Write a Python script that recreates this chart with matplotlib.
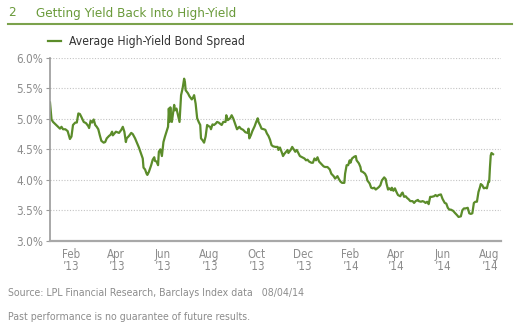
import numpy as np
import pandas as pd
import matplotlib
matplotlib.use("Agg")
import matplotlib.pyplot as plt
import matplotlib.dates as mdates
from matplotlib.lines import Line2D

plt.rcParams['font.family'] = ['Liberation Sans Narrow', 'DejaVu Sans']
plt.rcParams['font.stretch'] = 'condensed'

# Average high-yield bond spread (%), calendar days counted from 1 Jan 2013
days = [4, 6, 8, 12, 15, 17, 19, 21, 24, 27, 29, 30, 32, 34, 37, 39, 41, 43, 45, 48,
        51, 54, 55, 57, 59, 61, 63, 65, 67, 69, 71, 74, 76, 78, 81, 83, 85, 86, 88, 90,
        92, 94, 97, 99, 101, 103, 104, 107, 110, 112, 115, 117, 120, 122, 125, 126, 128, 130, 131, 133,
        136, 138, 140, 141, 143, 145, 146, 148, 150, 152, 154, 156, 158, 159, 160, 161, 162, 163, 166, 167,
        169, 171, 173, 175, 177, 179, 180, 181, 184, 186, 189, 191, 192, 194, 196, 198, 200, 201, 203, 205,
        207, 209, 211, 213, 214, 216, 218, 220, 222, 224, 226, 228, 230, 233, 234, 236, 239, 241, 243, 246,
        248, 251, 253, 256, 259, 262, 263, 264, 266, 268, 271, 273, 275, 276, 278, 280, 283, 285, 287, 289,
        291, 293, 295, 298, 301, 302, 304, 307, 308, 310, 312, 314, 315, 318, 320, 322, 324, 326, 328, 330,
        333, 336, 338, 340, 342, 345, 347, 349, 351, 353, 355, 358, 361, 363, 366, 369, 371, 374, 376, 379,
        381, 383, 385, 388, 389, 391, 393, 395, 396, 398, 401, 403, 404, 407, 409, 410, 412, 415, 417, 418,
        421, 423, 425, 427, 429, 431, 433, 435, 437, 440, 442, 443, 445, 447, 449, 450, 452, 454, 456, 458,
        461, 463, 464, 466, 468, 470, 472, 474, 477, 479, 481, 484, 485, 488, 490, 492, 494, 496, 498, 500,
        502, 505, 507, 509, 511, 514, 516, 519, 521, 523, 525, 527, 530, 532, 535, 537, 540, 542, 544, 546,
        549, 551, 553, 555, 557, 559, 561, 563, 565, 566, 568, 570, 572, 574, 576, 577, 578, 579, 580, 581,
        582]
spread = [5.27, 4.99, 4.95, 4.90, 4.86, 4.84, 4.87, 4.83, 4.83, 4.80, 4.71, 4.67, 4.71, 4.90, 4.94, 4.94, 5.09, 5.08, 5.03, 4.95,
          4.93, 4.88, 4.85, 4.97, 4.94, 4.99, 4.90, 4.87, 4.83, 4.73, 4.64, 4.61, 4.62, 4.68, 4.72, 4.74, 4.79, 4.73, 4.76, 4.79,
          4.78, 4.77, 4.82, 4.87, 4.79, 4.62, 4.68, 4.72, 4.77, 4.75, 4.68, 4.62, 4.53, 4.46, 4.35, 4.20, 4.17, 4.10, 4.08, 4.13,
          4.24, 4.33, 4.37, 4.31, 4.30, 4.24, 4.46, 4.50, 4.39, 4.62, 4.71, 4.79, 4.87, 5.17, 4.95, 5.19, 4.98, 4.95, 5.23, 5.14,
          5.17, 5.06, 4.95, 5.39, 5.50, 5.66, 5.61, 5.47, 5.42, 5.37, 5.32, 5.36, 5.39, 5.25, 5.01, 4.95, 4.90, 4.68, 4.65, 4.61,
          4.71, 4.90, 4.88, 4.87, 4.83, 4.91, 4.90, 4.92, 4.95, 4.94, 4.92, 4.90, 4.95, 4.95, 5.06, 4.98, 5.01, 5.06, 5.01, 4.90,
          4.83, 4.87, 4.84, 4.82, 4.78, 4.77, 4.84, 4.68, 4.73, 4.80, 4.88, 4.95, 5.01, 4.95, 4.90, 4.84, 4.83, 4.82, 4.76, 4.72,
          4.66, 4.57, 4.55, 4.54, 4.54, 4.49, 4.53, 4.43, 4.39, 4.43, 4.46, 4.49, 4.44, 4.49, 4.54, 4.50, 4.46, 4.49, 4.44, 4.39,
          4.37, 4.35, 4.32, 4.33, 4.30, 4.28, 4.28, 4.35, 4.32, 4.37, 4.30, 4.26, 4.22, 4.21, 4.21, 4.17, 4.10, 4.06, 4.02, 4.06,
          4.01, 3.97, 3.95, 3.95, 4.10, 4.24, 4.24, 4.32, 4.28, 4.35, 4.38, 4.39, 4.32, 4.27, 4.21, 4.14, 4.13, 4.10, 4.05, 3.99,
          3.94, 3.87, 3.86, 3.87, 3.84, 3.86, 3.88, 3.91, 3.99, 4.04, 4.01, 3.94, 3.84, 3.86, 3.83, 3.87, 3.82, 3.86, 3.80, 3.75,
          3.73, 3.78, 3.79, 3.72, 3.73, 3.70, 3.68, 3.65, 3.65, 3.62, 3.65, 3.67, 3.65, 3.64, 3.65, 3.64, 3.62, 3.64, 3.60, 3.72,
          3.72, 3.73, 3.75, 3.73, 3.75, 3.76, 3.69, 3.62, 3.61, 3.54, 3.51, 3.51, 3.49, 3.46, 3.42, 3.39, 3.40, 3.50, 3.53, 3.53,
          3.54, 3.45, 3.44, 3.45, 3.62, 3.64, 3.64, 3.80, 3.88, 3.93, 3.91, 3.86, 3.87, 3.86, 3.97, 3.97, 4.21, 4.40, 4.44, 4.43,
          4.42]

y_ticks = [3.0, 3.5, 4.0, 4.5, 5.0, 5.5, 6.0]
titulo = "Getting Yield Back Into High-Yield"
serie = "Average High-Yield Bond Spread"
fuente = "Source: LPL Financial Research, Barclays Index data   08/04/14"
aviso = "Past performance is no guarantee of future results."

verde = '#5b8c2a'
verde_titulo = '#6a9a3a'
gris = '#8c8c8c'

fechas = pd.Timestamp("2013-01-01") + pd.to_timedelta(days, unit="D")

fig = plt.figure(figsize=(5.25, 3.23), dpi=100)
ax = fig.add_axes([50 / 525, 82.3 / 323, 450.7 / 525, 182.7 / 323])

ax.plot(fechas, spread, color=verde, lw=1.6, label=serie, solid_joinstyle='round')

ax.set_ylim(3.0, 6.0)
ax.set_yticks(y_ticks)
ax.set_yticklabels([f"{v:.1f}%" for v in y_ticks])
ax.set_xlim(pd.Timestamp("2013-01-05"), pd.Timestamp("2014-08-16"))
ax.xaxis.set_major_locator(mdates.MonthLocator(bymonth=[2, 4, 6, 8, 10, 12]))
ax.xaxis.set_major_formatter(mdates.DateFormatter("%b\n\u2019%y"))

for v in y_ticks[1:]:
    ax.axhline(v, color='#c4c4c4', lw=0.8, ls=(0, (1, 1.5)), zorder=0)

for s in ['top', 'right']:
    ax.spines[s].set_visible(False)
ax.spines['left'].set_color('#9a9a9a')
ax.spines['left'].set_linewidth(1.2)
ax.spines['bottom'].set_color('#a8a8a8')
ax.spines['bottom'].set_linewidth(1.6)

ax.tick_params(axis='y', length=3, width=0.8, color='#9a9a9a', labelcolor=gris,
               labelsize=8.5, pad=2)
ax.tick_params(axis='x', length=0, labelcolor=gris, labelsize=8.3, pad=5)
for lbl in ax.get_xticklabels():
    lbl.set_linespacing(0.95)

ax.legend(loc='center left', bbox_to_anchor=(48 / 525, 1 - 42 / 323),
          bbox_transform=fig.transFigure, frameon=False, handlelength=1.1,
          handletextpad=0.6, borderaxespad=0, borderpad=0,
          prop={'size': 8.7}, labelcolor='#333333')

fig.text(8 / 525, 1 - 13 / 323, "2", color=verde_titulo, fontsize=9.6, va='center', ha='left')
fig.text(36 / 525, 1 - 13 / 323, titulo, color=verde_titulo, fontsize=9.6, va='center', ha='left')
fig.add_artist(Line2D([8 / 525, 512 / 525], [1 - 23.5 / 323] * 2, transform=fig.transFigure,
                      color='#7ba24c', lw=1.5))

fig.text(8 / 525, 1 - 293 / 323, fuente, color=gris, fontsize=7.6, va='center', ha='left')
fig.text(8 / 525, 1 - 317 / 323, aviso, color=gris, fontsize=7.6, va='center', ha='left')

fig.savefig("out.png", dpi=100)
